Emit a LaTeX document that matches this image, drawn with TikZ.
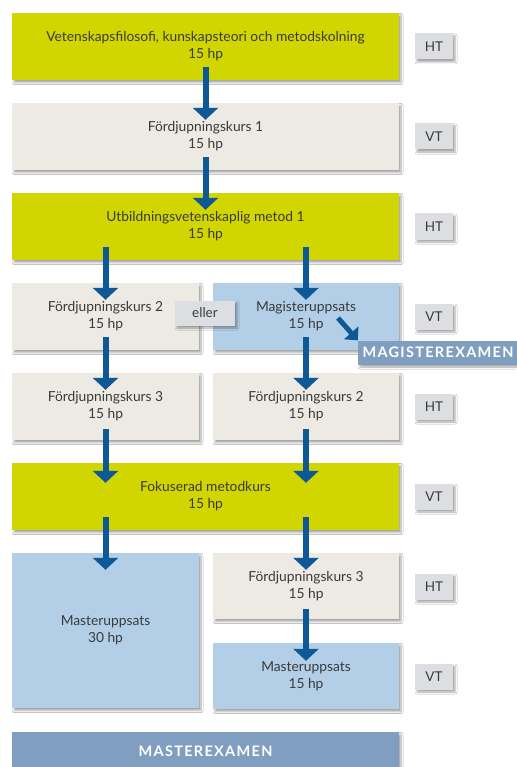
\documentclass[tikz,border=0pt]{standalone}
\usepackage{fontspec}
\setmainfont{Lato}
\newfontfamily\examfont[LetterSpace=9]{Lato}
\usetikzlibrary{arrows.meta,shadows.blur}
\definecolor{grn}{RGB}{210,214,0}
\definecolor{beige}{RGB}{237,234,227}
\definecolor{lblue}{RGB}{178,207,231}
\definecolor{band}{RGB}{128,158,192}
\definecolor{lbl}{RGB}{221,222,225}
\definecolor{arrblue}{RGB}{14,88,150}
\definecolor{txt}{RGB}{58,58,58}
\tikzset{
  shd/.style={blur shadow={shadow xshift=2pt,shadow yshift=-2.5pt,shadow blur radius=2pt,shadow opacity=35}},
  course/.style={shd,inner sep=0pt,align=center,text=txt,font=\fontsize{13.8}{17}\selectfont,minimum height=67pt},
  fullw/.style={course,minimum width=387pt},
  halfw/.style={course,minimum width=187pt},
  gbox/.style={fill=grn},
  bbox/.style={fill=beige},
  lbbox/.style={fill=lblue},
  term/.style={shd,fill=lbl,inner sep=0pt,minimum width=38pt,minimum height=26pt,text=txt,font=\fontsize{13.5}{15}\selectfont},
  exam/.style={shd,fill=band,inner sep=0pt,text=white,font=\examfont\bfseries\fontsize{14.5}{16}\selectfont},
  arr/.style={draw=arrblue,line width=6pt,-{Triangle[width=25pt,length=12pt]}},
}
\begin{document}
\begin{tikzpicture}[x=1pt,y=-1pt]
\useasboundingbox (0,0) rectangle (516,767);
\fill[white] (0,0) rectangle (516,767);
% courses
\node[fullw,gbox] (b1) at (205.5,46.5) {Vetenskapsfilosofi, kunskapsteori och metodskolning\\15 hp};
\node[fullw,bbox] (b2) at (205.5,136.5) {Fördjupningskurs 1\\15 hp};
\node[fullw,gbox] (b3) at (205.5,226.5) {Utbildningsvetenskaplig metod 1\\15 hp};
\node[halfw,bbox] (b4l) at (105.5,316.5) {Fördjupningskurs 2\\15 hp};
\node[halfw,lbbox,minimum width=186pt] (b4r) at (306,316.5) {Magisteruppsats\\15 hp};
\node[halfw,bbox] (b5l) at (105.5,406.5) {Fördjupningskurs 3\\15 hp};
\node[halfw,bbox,minimum width=186pt] (b5r) at (306,406.5) {Fördjupningskurs 2\\15 hp};
\node[fullw,gbox] (b6) at (205.5,496.5) {Fokuserad metodkurs\\15 hp};
\node[halfw,lbbox,minimum height=155pt] (b7l) at (105.5,630.5) {Masteruppsats\\30 hp};
\node[halfw,bbox,minimum width=186pt,minimum height=66pt] (b7r) at (306,586) {Fördjupningskurs 3\\15 hp};
\node[halfw,lbbox,minimum width=186pt,minimum height=66pt] (b8r) at (306,676) {Masteruppsats\\15 hp};
\node[exam,minimum width=387pt,minimum height=38pt] (master) at (205.5,751) {MASTEREXAMEN};
% eller
\node[term,minimum width=60pt,minimum height=25pt] (eller) at (205,313) {eller};
% magisterexamen
\node[exam,minimum width=160pt,minimum height=24pt] (magister) at (438,352.5) {MAGISTEREXAMEN};
% terms
\node[term] (t1) at (434,46.5) {HT};
\node[term] (t2) at (434,136.5) {VT};
\node[term] (t3) at (434,226.5) {HT};
\node[term] (t4) at (434,316.5) {VT};
\node[term] (t5) at (434,406.5) {HT};
\node[term] (t6) at (434,496.5) {VT};
\node[term] (t7) at (434,586.5) {HT};
\node[term] (t8) at (434,676.5) {VT};
% arrows
\draw[arr] ([yshift=13pt]b1.south) -- ([yshift=-17pt]b2.north);
\draw[arr] ([yshift=13pt]b2.south) -- ([yshift=-17pt]b3.north);
\draw[arr] ([yshift=13pt]b3.south -| b4l.south) -- ([yshift=-17pt]b4l.north);
\draw[arr] ([yshift=13pt]b3.south -| b4r.south) -- ([yshift=-17pt]b4r.north);
\draw[arr] ([yshift=13pt]b4l.south) -- ([yshift=-17pt]b5l.north);
\draw[arr] ([yshift=13pt]b4r.south) -- ([yshift=-17pt]b5r.north);
\draw[arr] ([yshift=11pt]b5l.south) -- ([yshift=-20pt]b6.north -| b5l.south);
\draw[arr] ([yshift=11pt]b5r.south) -- ([yshift=-20pt]b6.north -| b5r.south);
\draw[arr] ([yshift=13pt]b6.south -| b7l.north) -- ([yshift=-17pt]b7l.north);
\draw[arr] ([yshift=13pt]b6.south -| b7r.north) -- ([yshift=-17pt]b7r.north);
\draw[arr] ([yshift=10pt]b7r.south) -- ([yshift=-18pt]b8r.north);
\coordinate (d1) at (338,318);
\draw[draw=arrblue,line width=5pt,-{Triangle[width=19pt,length=10pt]}] (d1) -- (magister.north west);
\end{tikzpicture}
\end{document}
